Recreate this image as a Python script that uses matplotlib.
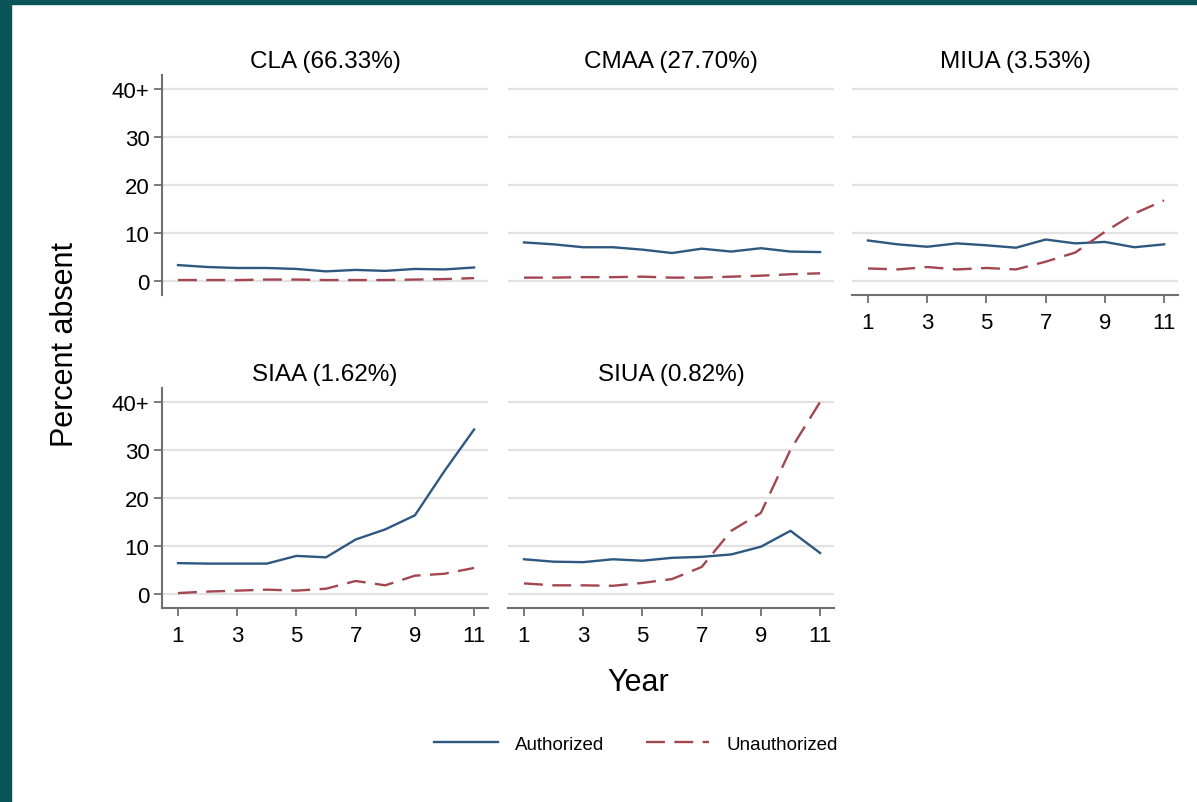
import numpy as np
import matplotlib
matplotlib.use("Agg")
import matplotlib.pyplot as plt
from matplotlib.patches import Rectangle

plt.rcParams['font.family'] = ['Liberation Sans', 'DejaVu Sans']

years = list(range(1, 12))
panel_titles = ["CLA (66.33%)", "CMAA (27.70%)", "MIUA (3.53%)", "SIAA (1.62%)", "SIUA (0.82%)"]

cla_auth = [3.4, 3.0, 2.8, 2.8, 2.6, 2.1, 2.4, 2.2, 2.6, 2.5, 2.9]
cla_unauth = [0.3, 0.3, 0.3, 0.4, 0.4, 0.3, 0.3, 0.3, 0.4, 0.5, 0.7]
cmaa_auth = [8.1, 7.7, 7.1, 7.1, 6.6, 5.9, 6.8, 6.2, 6.9, 6.2, 6.1]
cmaa_unauth = [0.8, 0.8, 0.9, 0.9, 1.0, 0.8, 0.8, 1.0, 1.2, 1.5, 1.7]
miua_auth = [8.5, 7.7, 7.2, 7.9, 7.5, 7.0, 8.7, 7.9, 8.2, 7.1, 7.7]
miua_unauth = [2.7, 2.5, 3.0, 2.5, 2.8, 2.5, 4.1, 6.0, 10.3, 14.1, 16.8]
siaa_auth = [6.5, 6.4, 6.4, 6.4, 8.0, 7.7, 11.4, 13.5, 16.4, 25.6, 34.2]
siaa_unauth = [0.3, 0.6, 0.8, 1.0, 0.8, 1.2, 2.8, 1.9, 3.9, 4.3, 5.5]
siua_auth = [7.3, 6.8, 6.7, 7.3, 7.0, 7.6, 7.8, 8.3, 9.9, 13.2, 8.6]
siua_unauth = [2.3, 1.9, 1.9, 1.8, 2.4, 3.2, 5.7, 13.2, 16.9, 30.0, 39.9]

auth_series = [cla_auth, cmaa_auth, miua_auth, siaa_auth, siua_auth]
unauth_series = [cla_unauth, cmaa_unauth, miua_unauth, siaa_unauth, siua_unauth]

yticks = [0, 10, 20, 30, 40]
ytick_labels = ["0", "10", "20", "30", "40+"]
xticks = [1, 3, 5, 7, 9, 11]

blue = '#2f5880'
red = '#a3464f'
grey = '#707070'

W, H = 1197, 803
fig = plt.figure(figsize=(W / 100, H / 100), dpi=100)

# teal frame on top and left
fig.patches.append(Rectangle((0, 1 - 5 / H), 1, 5 / H, transform=fig.transFigure,
                             color='#0a5358', zorder=0))
fig.patches.append(Rectangle((0, 0), 11 / W, 1, transform=fig.transFigure,
                             color='#0a5358', zorder=0))

# (left px, top px) of each panel, width/height in px
boxes = [(162, 76), (508, 76), (852, 76), (162, 389), (508, 389)]
pw, ph = 326, 220
show_x = [False, False, True, True, True]
show_y = [True, False, False, True, False]

for i, (lx, ty) in enumerate(boxes):
    ax = fig.add_axes([lx / W, 1 - (ty + ph) / H, pw / W, ph / H])
    ax.set_xlim(0.46, 11.47)
    ax.set_ylim(-2.8, 42.8)
    for v in yticks:
        ax.axhline(v, color='#e2e2e2', lw=1.6, zorder=0)
    ax.plot(years, auth_series[i], color=blue, lw=1.7, zorder=3)
    ax.plot(years, unauth_series[i], color=red, lw=1.7, dashes=(8, 4), zorder=3)
    ax.set_title(panel_titles[i], fontsize=17.5, pad=6)
    for s in ['top', 'right']:
        ax.spines[s].set_visible(False)
    ax.spines['left'].set_visible(show_y[i])
    ax.spines['bottom'].set_visible(show_x[i])
    ax.spines['left'].set_color(grey)
    ax.spines['bottom'].set_color(grey)
    ax.spines['left'].set_linewidth(1.5)
    ax.spines['bottom'].set_linewidth(1.5)
    if show_y[i]:
        ax.set_yticks(yticks)
        ax.set_yticklabels(ytick_labels)
        ax.tick_params(axis='y', length=6, width=1.3, color=grey, labelsize=16, pad=3)
    else:
        ax.set_yticks([])
    if show_x[i]:
        ax.set_xticks(xticks)
        ax.tick_params(axis='x', length=6, width=1.3, color=grey, labelsize=16, pad=6)
    else:
        ax.set_xticks([])
    ax.patch.set_alpha(0)

fig.text(65 / W, 1 - 345 / H, "Percent absent", rotation=90, fontsize=22,
         ha='center', va='center')
fig.text(638 / W, 1 - 683 / H, "Year", fontsize=22, ha='center', va='center')

h1, = plt.plot([], [], color=blue, lw=1.7)
h2, = plt.plot([], [], color=red, lw=1.7, dashes=(8, 4))
fig.legend([h1, h2], ["Authorized", "Unauthorized"], loc='center',
           bbox_to_anchor=(636 / W, 1 - 745 / H), ncol=2, frameon=False,
           fontsize=13.5, handlelength=3.4, handletextpad=0.9, columnspacing=2.2)

fig.savefig("out.png", dpi=100)
